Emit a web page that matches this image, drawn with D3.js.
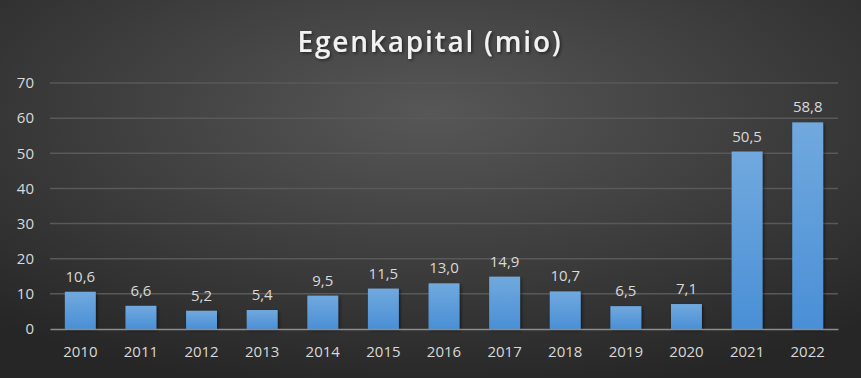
<!DOCTYPE html>
<html>
<head>
<meta charset="utf-8">
<script src="https://cdn.jsdelivr.net/npm/d3@7"></script>
<style>
  body { margin: 0; background: #333; }
  svg { display: block; }
</style>
</head>
<body>
<svg id="chart" width="861" height="378"></svg>
<script>
const years = ["2010", "2011", "2012", "2013", "2014", "2015", "2016", "2017", "2018", "2019", "2020", "2021", "2022"];
const equity = [10.6, 6.6, 5.2, 5.4, 9.5, 11.5, 13.0, 14.9, 10.7, 6.5, 7.1, 50.5, 58.8];
const yTicks = [0, 10, 20, 30, 40, 50, 60, 70];

const width = 861, height = 378;
const margin = { top: 83, right: 23, bottom: 49, left: 50 };

const svg = d3.select("#chart");
const defs = svg.append("defs");

// background: dark radial glow
const bg = defs.append("radialGradient").attr("id", "bg")
  .attr("cx", "50%").attr("cy", "30%").attr("r", "75%");
bg.append("stop").attr("offset", "0%").attr("stop-color", "#575757");
bg.append("stop").attr("offset", "100%").attr("stop-color", "#262626");

const barGrad = defs.append("linearGradient").attr("id", "barGrad")
  .attr("x1", 0).attr("y1", 0).attr("x2", 0).attr("y2", 1);
barGrad.append("stop").attr("offset", "0%").attr("stop-color", "#71a9de");
barGrad.append("stop").attr("offset", "100%").attr("stop-color", "#4a8fd6");

const shadow = defs.append("filter").attr("id", "shadow")
  .attr("x", "-20%").attr("y", "-20%").attr("width", "150%").attr("height", "150%");
shadow.append("feDropShadow").attr("dx", 1.5).attr("dy", 1.5).attr("stdDeviation", 1.5)
  .attr("flood-color", "#000").attr("flood-opacity", 0.5);

svg.append("rect").attr("width", width).attr("height", height).attr("fill", "url(#bg)");

const x = d3.scaleBand()
  .domain(years)
  .range([margin.left, width - margin.right])
  .paddingInner(0.49)
  .paddingOuter(0.245);

const y = d3.scaleLinear()
  .domain([0, 70])
  .range([height - margin.bottom, margin.top]);

// title
svg.append("text")
  .attr("x", 430).attr("y", 52)
  .attr("text-anchor", "middle")
  .attr("fill", "#f2f2f2")
  .style("font-family", "'Open Sans', sans-serif")
  .style("font-weight", "600")
  .style("font-size", "28px")
  .style("letter-spacing", "1.8px")
  .attr("filter", "url(#shadow)")
  .text("Egenkapital (mio)");

// gridlines
svg.append("g")
  .selectAll("line")
  .data(yTicks.filter(d => d > 0))
  .join("line")
  .attr("x1", margin.left).attr("x2", width - margin.right)
  .attr("y1", d => y(d)).attr("y2", d => y(d))
  .attr("stroke", "#595959").attr("stroke-width", 1.5);

// y axis
const yAxis = svg.append("g")
  .attr("transform", `translate(${margin.left - 16},0)`)
  .call(d3.axisLeft(y).tickValues(yTicks).tickSize(0).tickPadding(0));
yAxis.select(".domain").remove();
yAxis.selectAll("text")
  .attr("fill", "#d9d9d9")
  .style("font-family", "'Open Sans', sans-serif")
  .style("font-size", "15px");

// bars
svg.append("g")
  .selectAll("rect")
  .data(equity)
  .join("rect")
  .attr("x", (d, i) => x(years[i]))
  .attr("y", d => y(d))
  .attr("width", x.bandwidth())
  .attr("height", d => y(0) - y(d))
  .attr("fill", "url(#barGrad)")
  .attr("filter", "url(#shadow)");

// x axis
const xAxis = svg.append("g")
  .attr("transform", `translate(0,${y(0)})`)
  .call(d3.axisBottom(x).tickSize(0).tickPadding(17));
xAxis.select(".domain").attr("stroke", "#8c8c8c").attr("stroke-width", 1.5);
xAxis.selectAll("text")
  .attr("fill", "#d9d9d9")
  .style("font-family", "'Open Sans', sans-serif")
  .style("font-size", "15px");

// data labels
const fmt = d => d.toFixed(1).replace(".", ",");
svg.append("g")
  .selectAll("text")
  .data(equity)
  .join("text")
  .attr("x", (d, i) => x(years[i]) + x.bandwidth() / 2)
  .attr("y", d => y(d) - 10)
  .attr("text-anchor", "middle")
  .attr("fill", "#d9d9d9")
  .style("font-family", "'Open Sans', sans-serif")
  .style("font-size", "15px")
  .text(fmt);
</script>
</body>
</html>
